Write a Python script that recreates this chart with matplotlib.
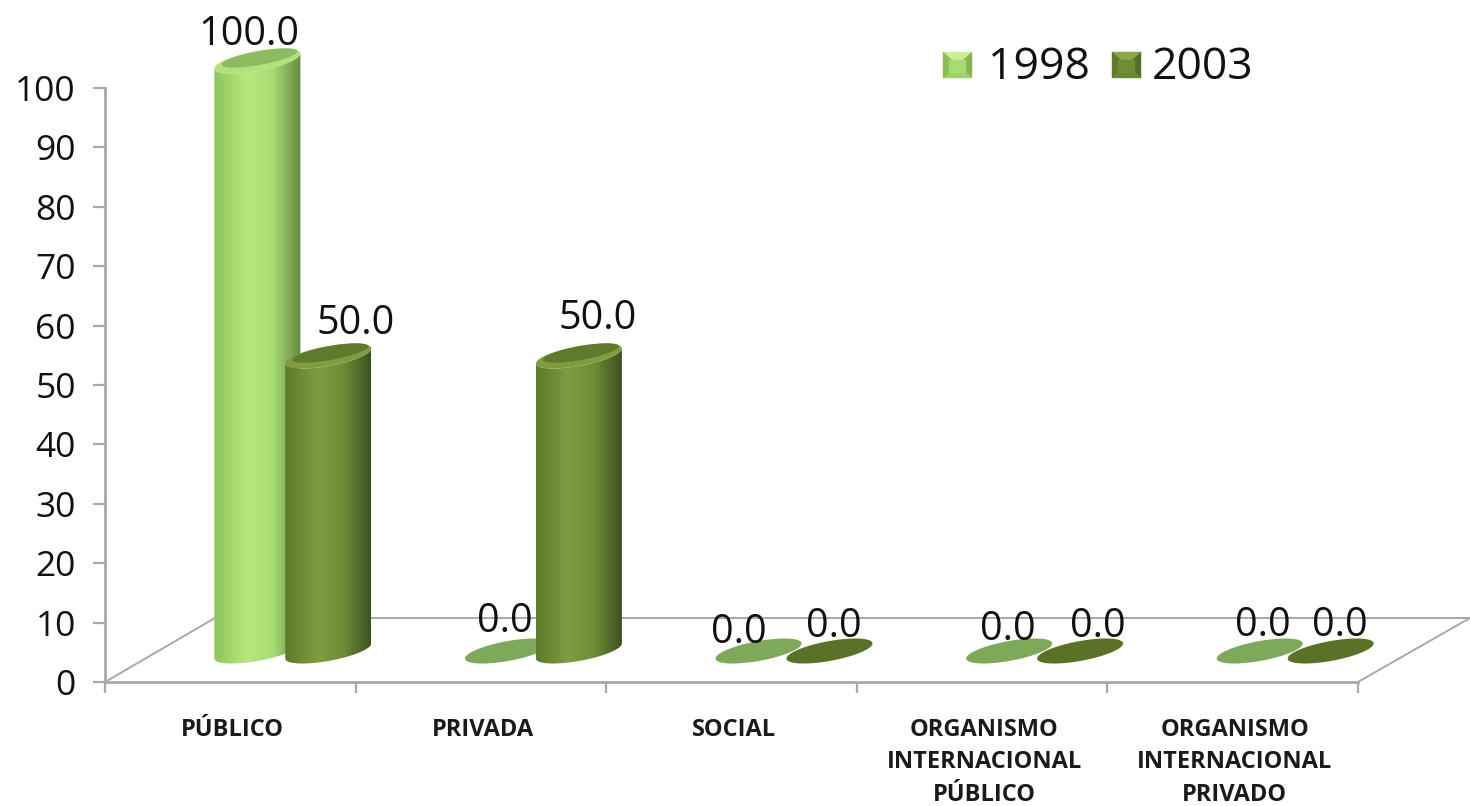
import numpy as np
import matplotlib
matplotlib.use("Agg")
import matplotlib.pyplot as plt
from matplotlib.patches import Polygon, PathPatch
from matplotlib.path import Path

plt.rcParams["font.family"] = ["Open Sans", "DejaVu Sans"]

categories = ["PÚBLICO", "PRIVADA", "SOCIAL",
              "ORGANISMO\nINTERNACIONAL\nPÚBLICO",
              "ORGANISMO\nINTERNACIONAL\nPRIVADO"]
series_names = ["1998", "2003"]
values_1998 = [100.0, 0.0, 0.0, 0.0, 0.0]
values_2003 = [50.0, 50.0, 0.0, 0.0, 0.0]
y_ticks = [0, 10, 20, 30, 40, 50, 60, 70, 80, 90, 100]

W, H = 1470, 806
GRID = "#a8a8a8"

# label nudges from the top of each bar, in pixels
label_off_1998 = [(-9, -26), (-3, -29), (-20, -18), (-1, -21), (3, -25)]
label_off_2003 = [(27, -32), (19, -37), (4, -24), (18, -24), (9, -25)]

body_1998 = ["#8fc45c", "#b6e87e", "#a8dc74", "#65893f"]
body_2003 = ["#5d7a2c", "#7f9c40", "#6f8c36", "#3c5220"]
flat_1998 = "#7fa95a"
flat_2003 = "#5b7127"
cap_1998 = ("#b4e07e", "#8fbb60")
cap_2003 = ("#7f9c40", "#5f7a2c")

fig = plt.figure(figsize=(W / 100, H / 100), dpi=100)
ax = fig.add_axes([105 / W, 1 - 682 / H, (1358 - 105) / W, (682 - 88) / H])
ax.set_xlim(0, 5)
ax.set_ylim(0, 100)
ax.patch.set_alpha(0)

# pixel sizes of one data unit
ux = (1358 - 105) / 5
uy = (682 - 88) / 100


def to_data(xp, yp):
    return (np.asarray(xp) - 105) / ux, (682 - np.asarray(yp)) / uy


# floor
for (x0, y0), (x1, y1) in [((105, 682), (215, 618)), ((215, 618), (1470, 618)),
                           ((1358, 682), (1470, 618))]:
    xs, ys = to_data([x0, x1], [y0, y1])
    ax.plot(xs, ys, color=GRID, lw=1.4, clip_on=False, zorder=1)

for s in ["top", "right"]:
    ax.spines[s].set_visible(False)
for s in ["left", "bottom"]:
    ax.spines[s].set_color(GRID)
    ax.spines[s].set_linewidth(2)

ax.set_yticks(y_ticks)
ax.tick_params(axis="y", length=9, width=1.6, color=GRID, labelsize=25.5, pad=12, labelcolor="#111111")
ax.set_xticks(range(6))
ax.set_xticklabels([])
ax.tick_params(axis="x", length=8, width=1.6, color=GRID)

for i, name in enumerate(categories):
    ax.text(i + 0.508, -6.0, name, ha="center", va="top", fontsize=17, fontweight="bold",
            color="#1a1a1a", linespacing=1.47, clip_on=False)

A, B, S = 43.0, 10.0, 0.175   # half width, half depth, skew of the ellipses
t = np.linspace(0, 2 * np.pi, 121)


def ellipse(cx, cy, a=A, b=B):
    return cx + a * np.cos(t), cy + b * np.sin(t) - S * a * np.cos(t)


def fill_ellipse(cx, cy, color, z, a=A, b=B):
    xe, ye = ellipse(cx, cy, a, b)
    xd, yd = to_data(xe, ye)
    ax.fill(xd, yd, color=color, lw=0, clip_on=False, zorder=z)


def cylinder(cx, cy_base, cy_top, stops, caps, z):
    # body outline: lower half of base ellipse, then upper half of top ellipse
    tb = np.linspace(np.pi, 0, 60)
    xb = cx + A * np.cos(tb)
    yb = cy_base + B * np.sin(tb) - S * A * np.cos(tb)
    xo = np.concatenate([xb, xb[::-1]])
    yo = np.concatenate([yb, cy_top + B * np.sin(tb[::-1]) - S * A * np.cos(tb[::-1])])
    xd, yd = to_data(xo, yo)
    verts = np.column_stack([xd, yd])
    patch = PathPatch(Path(np.vstack([verts, verts[0]]), closed=True), fc="none", ec="none",
                      transform=ax.transData, clip_on=False)
    ax.add_patch(patch)
    rgb = np.array([matplotlib.colors.to_rgb(c) for c in stops])
    u = np.linspace(0, 1, 128)
    pos = [0, 0.38, 0.68, 1]
    grad = np.stack([np.interp(u, pos, rgb[:, k]) for k in range(3)], axis=1)[None, :, :]
    x0, _ = to_data(cx - A, 0)
    x1, _ = to_data(cx + A, 0)
    im = ax.imshow(grad, extent=[x0, x1, yd.min(), yd.max()], aspect="auto", zorder=z,
                   interpolation="bilinear")
    im.set_clip_box(fig.bbox)
    im.set_clip_path(patch)
    fill_ellipse(cx, cy_top, caps[0], z + 0.1)
    fill_ellipse(cx + 2, cy_top - 3, caps[1], z + 0.2, a=A - 5, b=B - 3)


for j, (vals, stops, caps, flat, offs) in enumerate([
        (values_1998, body_1998, cap_1998, flat_1998, label_off_1998),
        (values_2003, body_2003, cap_2003, flat_2003, label_off_2003)]):
    for i, v in enumerate(vals):
        cx = 105 + (i + 0.608 + 0.283 * j) * ux
        base = 651
        top = base - v * 5.9
        z = 3 + j + i * 0.01
        if v > 0:
            cylinder(cx, base, top, stops, caps, z)
        else:
            fill_ellipse(cx, base, flat, z)
        lx, ly = to_data(cx + offs[i][0], top + offs[i][1])
        ax.text(lx, ly, f"{v:.1f}", ha="center", va="center", fontsize=28.5, color="#111111",
                clip_on=False, zorder=6)

# legend
legend_specs = [
    (series_names[0], 943, 988, ("#cdee95", "#86b455", "#9fd06a", "#8cbc58"), "#a8dc70"),
    (series_names[1], 1112, 1152, ("#8ea648", "#556f28", "#6b8833", "#5e7a2c"), "#6f8c36"),
]
for name, x_box, x_text, stops, inner in legend_specs:
    y_box, w_box, h_box = 52, 29, 26
    corners = [(x_box, y_box), (x_box + w_box, y_box), (x_box + w_box, y_box + h_box), (x_box, y_box + h_box)]
    mid = (x_box + w_box / 2, y_box + h_box / 2)
    for k in range(4):
        a, b = corners[k], corners[(k + 1) % 4]
        xs, ys = to_data([a[0], b[0], mid[0]], [a[1], b[1], mid[1]])
        ax.add_patch(Polygon(np.column_stack([xs, ys]), fc=stops[k], ec=stops[k], lw=0.3,
                             clip_on=False, zorder=6))
    xs, ys = to_data([x_box + 6, x_box + w_box - 6, x_box + w_box - 6, x_box + 6],
                     [y_box + 8, y_box + 8, y_box + h_box - 5, y_box + h_box - 5])
    ax.add_patch(Polygon(np.column_stack([xs, ys]), fc=inner, ec=inner, lw=0.3, clip_on=False, zorder=6.1))
    lx, ly = to_data(x_text, 68)
    ax.text(lx, ly, name, ha="left", va="center", fontsize=32, color="#111111", clip_on=False)

ax.set_xlim(0, 5)
ax.set_ylim(0, 100)
fig.savefig("out.png", dpi=100, facecolor="white")
plt.close(fig)
